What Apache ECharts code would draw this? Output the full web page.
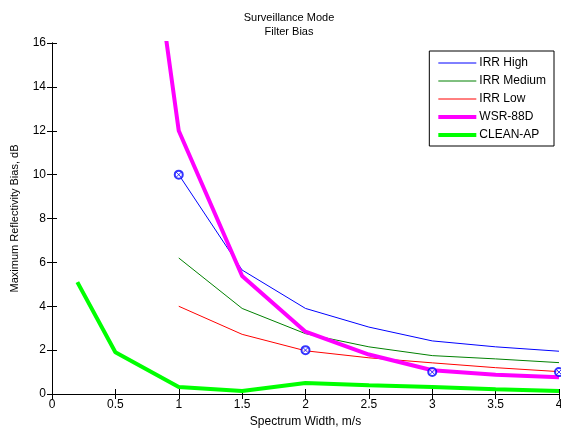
<!DOCTYPE html>
<html><head><meta charset="utf-8">
<script src="https://cdn.jsdelivr.net/npm/echarts@6/dist/echarts.min.js"></script>
<style>html,body{margin:0;padding:0;background:#fff}#c{width:561px;height:433px}</style>
</head><body><div id="c"></div>
<script>
const xTicks = [0, 0.5, 1, 1.5, 2, 2.5, 3, 3.5, 4];
const irrX = [1, 1.5, 2, 2.5, 3, 3.5, 4];
const irrHigh = [10, 5.65, 3.9, 3.05, 2.42, 2.15, 1.95];
const irrMedium = [6.2, 3.9, 2.75, 2.15, 1.75, 1.6, 1.43];
const irrLow = [4.0, 2.72, 1.97, 1.65, 1.42, 1.2, 1.02];
const wsrX = [0.5, 1, 1.5, 2, 2.5, 3, 3.5, 4];
const wsr88d = [33, 12, 5.38, 2.84, 1.8, 1.08, 0.88, 0.76];
const cleanX = [0.2, 0.5, 1, 1.5, 2, 2.5, 3, 3.5, 4];
const cleanAP = [5.1, 1.9, 0.32, 0.14, 0.5, 0.4, 0.32, 0.22, 0.14];
const markX = [1, 2, 3, 4];
const markY = [10, 2, 1, 1];
const seriesNames = ['IRR High', 'IRR Medium', 'IRR Low', 'WSR-88D', 'CLEAN-AP'];
const legendWidths = [1, 1, 1, 4, 4];

const zip = (xs, ys) => xs.map((x, i) => [x, ys[i]]);
const font = 'Liberation Sans, Arial, sans-serif';
const chart = echarts.init(document.getElementById('c'));
const tick = {show: true, inside: true, length: 5, lineStyle: {color: '#000'}};
chart.setOption({
  animation: false,
  textStyle: {fontFamily: font},
  title: {
    text: 'Surveillance Mode\nFilter Bias',
    left: 284, top: 6, textAlign: 'center',
    textStyle: {fontSize: 11, fontWeight: 'normal', color: '#000', lineHeight: 14, fontFamily: font}
  },
  grid: {left: 52, right: 2, top: 43, bottom: 39, show: false, outerBoundsMode: 'none', containLabel: false},
  legend: {
    right: 7, top: 51, orient: 'vertical', itemGap: 6,
    itemWidth: 38, itemHeight: 12,
    backgroundColor: '#fff', borderColor: '#000', borderWidth: 1, padding: [6, 8, 5, 7],
    textStyle: {fontSize: 12, color: '#000', fontFamily: font, padding: [0, 0, 0, -2]},
    itemStyle: {opacity: 0},
    data: seriesNames.map((n, i) => ({name: n, lineStyle: {width: legendWidths[i]}}))
  },
  xAxis: [{
    type: 'value', min: 0, max: 4, interval: 0.5,
    name: 'Spectrum Width, m/s', nameLocation: 'middle', nameGap: 20,
    nameTextStyle: {fontSize: 12, color: '#000', fontFamily: font},
    axisLine: {show: true, lineStyle: {color: '#000'}},
    axisTick: tick,
    axisLabel: {fontSize: 12, color: '#000', margin: 5, fontFamily: font},
    splitLine: {show: false}
  }, {
    type: 'value', min: 0, max: 4, interval: 0.5, position: 'top',
    axisLine: {show: true, lineStyle: {color: '#000'}},
    axisTick: tick, axisLabel: {show: false}, splitLine: {show: false}
  }],
  yAxis: [{
    type: 'value', min: 0, max: 16, interval: 2,
    name: 'Maximum Reflectivity Bias, dB', nameLocation: 'middle', nameGap: 32,
    nameTextStyle: {fontSize: 11, color: '#000', fontFamily: font},
    axisLine: {show: true, lineStyle: {color: '#000'}},
    axisTick: tick,
    axisLabel: {fontSize: 12, color: '#000', margin: 6, fontFamily: font},
    splitLine: {show: false}
  }, {
    type: 'value', min: 0, max: 16, interval: 2, position: 'right',
    axisLine: {show: true, lineStyle: {color: '#000'}},
    axisTick: tick, axisLabel: {show: false}, splitLine: {show: false}
  }],
  series: [
    {name: 'IRR High', type: 'line', data: zip(irrX, irrHigh), showSymbol: false, symbol: 'none',
     lineStyle: {color: '#0000ff', width: 1}, itemStyle: {color: '#0000ff'}},
    {name: 'IRR Medium', type: 'line', data: zip(irrX, irrMedium), showSymbol: false, symbol: 'none',
     lineStyle: {color: '#008000', width: 1}, itemStyle: {color: '#008000'}},
    {name: 'IRR Low', type: 'line', data: zip(irrX, irrLow), showSymbol: false, symbol: 'none',
     lineStyle: {color: '#ff0000', width: 1}, itemStyle: {color: '#ff0000'}},
    {name: 'WSR-88D', type: 'line', data: zip(wsrX, wsr88d), showSymbol: false, symbol: 'none', clip: true,
     lineStyle: {color: '#ff00ff', width: 4}, itemStyle: {color: '#ff00ff'}},
    {name: 'CLEAN-AP', type: 'line', data: zip(cleanX, cleanAP), showSymbol: false, symbol: 'none',
     lineStyle: {color: '#00ff00', width: 4}, itemStyle: {color: '#00ff00'}},
    {name: 'marks-o', type: 'scatter', data: zip(markX, markY), symbol: 'emptyCircle', symbolSize: 8,
     itemStyle: {color: '#0000ff', borderColor: '#0000ff', borderWidth: 1}, z: 5},
    {name: 'marks-x', type: 'scatter', data: zip(markX, markY), symbol: 'path://M0,0L10,10M10,0L0,10', symbolSize: 5,
     itemStyle: {color: 'none', borderColor: '#0000ff', borderWidth: 1}, z: 5}
  ]
});
</script></body></html>
